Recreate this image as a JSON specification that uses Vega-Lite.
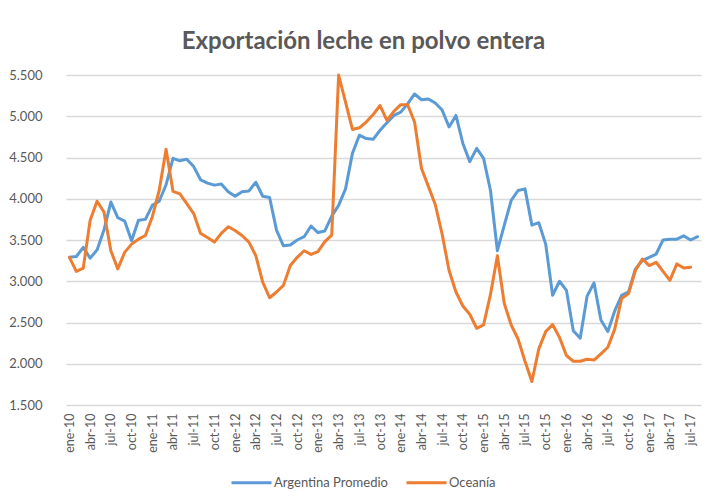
{
  "$schema": "https://vega.github.io/schema/vega-lite/v6.json",
  "width": 635,
  "height": 330,
  "autosize": {"type": "none"},
  "padding": {"left": 66, "top": 75, "right": 14, "bottom": 92},
  "background": "white",
  "title": {
    "text": "Exportación leche en polvo entera",
    "font": "Lato",
    "fontSize": 24,
    "fontWeight": "bold",
    "color": "#595959",
    "anchor": "middle",
    "dx": -20,
    "baseline": "alphabetic",
    "offset": -4
  },
  "config": {
    "view": {"stroke": null},
    "font": "Lato"
  },
  "data": {
    "values": [
      {"mes": "ene-10", "Argentina Promedio": 3290, "Oceanía": 3290},
      {"mes": "feb-10", "Argentina Promedio": 3300, "Oceanía": 3120},
      {"mes": "mar-10", "Argentina Promedio": 3410, "Oceanía": 3160},
      {"mes": "abr-10", "Argentina Promedio": 3280, "Oceanía": 3740},
      {"mes": "may-10", "Argentina Promedio": 3380, "Oceanía": 3970},
      {"mes": "jun-10", "Argentina Promedio": 3620, "Oceanía": 3840},
      {"mes": "jul-10", "Argentina Promedio": 3960, "Oceanía": 3370},
      {"mes": "ago-10", "Argentina Promedio": 3770, "Oceanía": 3150},
      {"mes": "sep-10", "Argentina Promedio": 3730, "Oceanía": 3350},
      {"mes": "oct-10", "Argentina Promedio": 3490, "Oceanía": 3450},
      {"mes": "nov-10", "Argentina Promedio": 3740, "Oceanía": 3510},
      {"mes": "dic-10", "Argentina Promedio": 3750, "Oceanía": 3555},
      {"mes": "ene-11", "Argentina Promedio": 3920, "Oceanía": 3780},
      {"mes": "feb-11", "Argentina Promedio": 3970, "Oceanía": 4100},
      {"mes": "mar-11", "Argentina Promedio": 4170, "Oceanía": 4600},
      {"mes": "abr-11", "Argentina Promedio": 4490, "Oceanía": 4090},
      {"mes": "may-11", "Argentina Promedio": 4460, "Oceanía": 4060},
      {"mes": "jun-11", "Argentina Promedio": 4480, "Oceanía": 3940},
      {"mes": "jul-11", "Argentina Promedio": 4390, "Oceanía": 3820},
      {"mes": "ago-11", "Argentina Promedio": 4230, "Oceanía": 3580},
      {"mes": "sep-11", "Argentina Promedio": 4190, "Oceanía": 3530},
      {"mes": "oct-11", "Argentina Promedio": 4165, "Oceanía": 3475},
      {"mes": "nov-11", "Argentina Promedio": 4180, "Oceanía": 3580},
      {"mes": "dic-11", "Argentina Promedio": 4085, "Oceanía": 3660},
      {"mes": "ene-12", "Argentina Promedio": 4030, "Oceanía": 3615},
      {"mes": "feb-12", "Argentina Promedio": 4085, "Oceanía": 3555},
      {"mes": "mar-12", "Argentina Promedio": 4095, "Oceanía": 3475},
      {"mes": "abr-12", "Argentina Promedio": 4200, "Oceanía": 3310},
      {"mes": "may-12", "Argentina Promedio": 4030, "Oceanía": 2990},
      {"mes": "jun-12", "Argentina Promedio": 4015, "Oceanía": 2800},
      {"mes": "jul-12", "Argentina Promedio": 3620, "Oceanía": 2870},
      {"mes": "ago-12", "Argentina Promedio": 3430, "Oceanía": 2950},
      {"mes": "sep-12", "Argentina Promedio": 3440, "Oceanía": 3190},
      {"mes": "oct-12", "Argentina Promedio": 3500, "Oceanía": 3290},
      {"mes": "nov-12", "Argentina Promedio": 3540, "Oceanía": 3370},
      {"mes": "dic-12", "Argentina Promedio": 3670, "Oceanía": 3325},
      {"mes": "ene-13", "Argentina Promedio": 3590, "Oceanía": 3360},
      {"mes": "feb-13", "Argentina Promedio": 3610, "Oceanía": 3480},
      {"mes": "mar-13", "Argentina Promedio": 3790, "Oceanía": 3560},
      {"mes": "abr-13", "Argentina Promedio": 3920, "Oceanía": 5500},
      {"mes": "may-13", "Argentina Promedio": 4120, "Oceanía": 5170},
      {"mes": "jun-13", "Argentina Promedio": 4550, "Oceanía": 4840},
      {"mes": "jul-13", "Argentina Promedio": 4770, "Oceanía": 4860},
      {"mes": "ago-13", "Argentina Promedio": 4730, "Oceanía": 4930},
      {"mes": "sep-13", "Argentina Promedio": 4720, "Oceanía": 5020},
      {"mes": "oct-13", "Argentina Promedio": 4830, "Oceanía": 5130},
      {"mes": "nov-13", "Argentina Promedio": 4920, "Oceanía": 4950},
      {"mes": "dic-13", "Argentina Promedio": 5010, "Oceanía": 5060},
      {"mes": "ene-14", "Argentina Promedio": 5050, "Oceanía": 5140},
      {"mes": "feb-14", "Argentina Promedio": 5150, "Oceanía": 5140},
      {"mes": "mar-14", "Argentina Promedio": 5270, "Oceanía": 4930},
      {"mes": "abr-14", "Argentina Promedio": 5200, "Oceanía": 4370},
      {"mes": "may-14", "Argentina Promedio": 5210, "Oceanía": 4150},
      {"mes": "jun-14", "Argentina Promedio": 5160, "Oceanía": 3930},
      {"mes": "jul-14", "Argentina Promedio": 5075, "Oceanía": 3570},
      {"mes": "ago-14", "Argentina Promedio": 4870, "Oceanía": 3130},
      {"mes": "sep-14", "Argentina Promedio": 5010, "Oceanía": 2870},
      {"mes": "oct-14", "Argentina Promedio": 4670, "Oceanía": 2700},
      {"mes": "nov-14", "Argentina Promedio": 4450, "Oceanía": 2600},
      {"mes": "dic-14", "Argentina Promedio": 4610, "Oceanía": 2430},
      {"mes": "ene-15", "Argentina Promedio": 4490, "Oceanía": 2470},
      {"mes": "feb-15", "Argentina Promedio": 4100, "Oceanía": 2840},
      {"mes": "mar-15", "Argentina Promedio": 3370, "Oceanía": 3310},
      {"mes": "abr-15", "Argentina Promedio": 3680, "Oceanía": 2730},
      {"mes": "may-15", "Argentina Promedio": 3980, "Oceanía": 2470},
      {"mes": "jun-15", "Argentina Promedio": 4100, "Oceanía": 2300},
      {"mes": "jul-15", "Argentina Promedio": 4120, "Oceanía": 2030},
      {"mes": "ago-15", "Argentina Promedio": 3680, "Oceanía": 1785},
      {"mes": "sep-15", "Argentina Promedio": 3710, "Oceanía": 2180},
      {"mes": "oct-15", "Argentina Promedio": 3450, "Oceanía": 2390},
      {"mes": "nov-15", "Argentina Promedio": 2830, "Oceanía": 2475},
      {"mes": "dic-15", "Argentina Promedio": 3000, "Oceanía": 2320},
      {"mes": "ene-16", "Argentina Promedio": 2890, "Oceanía": 2100},
      {"mes": "feb-16", "Argentina Promedio": 2400, "Oceanía": 2030},
      {"mes": "mar-16", "Argentina Promedio": 2310, "Oceanía": 2030},
      {"mes": "abr-16", "Argentina Promedio": 2820, "Oceanía": 2055},
      {"mes": "may-16", "Argentina Promedio": 2980, "Oceanía": 2045},
      {"mes": "jun-16", "Argentina Promedio": 2530, "Oceanía": 2120},
      {"mes": "jul-16", "Argentina Promedio": 2390, "Oceanía": 2200},
      {"mes": "ago-16", "Argentina Promedio": 2640, "Oceanía": 2420},
      {"mes": "sep-16", "Argentina Promedio": 2830, "Oceanía": 2790},
      {"mes": "oct-16", "Argentina Promedio": 2870, "Oceanía": 2850},
      {"mes": "nov-16", "Argentina Promedio": 3150, "Oceanía": 3130},
      {"mes": "dic-16", "Argentina Promedio": 3250, "Oceanía": 3270},
      {"mes": "ene-17", "Argentina Promedio": 3290, "Oceanía": 3190},
      {"mes": "feb-17", "Argentina Promedio": 3330, "Oceanía": 3230},
      {"mes": "mar-17", "Argentina Promedio": 3500, "Oceanía": 3120},
      {"mes": "abr-17", "Argentina Promedio": 3510, "Oceanía": 3010},
      {"mes": "may-17", "Argentina Promedio": 3510, "Oceanía": 3210},
      {"mes": "jun-17", "Argentina Promedio": 3550, "Oceanía": 3160},
      {"mes": "jul-17", "Argentina Promedio": 3500, "Oceanía": 3170},
      {"mes": "ago-17", "Argentina Promedio": 3540, "Oceanía": null}
    ]
  },
  "transform": [
    {"fold": ["Argentina Promedio", "Oceanía"], "as": ["serie", "valor"]},
    {"filter": "isValid(datum.valor)"}
  ],
  "mark": {"type": "line", "strokeWidth": 3, "strokeJoin": "round", "strokeCap": "round"},
  "encoding": {
    "x": {
      "field": "mes",
      "type": "ordinal",
      "sort": null,
      "scale": {"type": "point", "padding": 0.5},
      "axis": {
        "title": null,
        "values": ["ene-10","abr-10","jul-10","oct-10","ene-11","abr-11","jul-11","oct-11","ene-12","abr-12","jul-12","oct-12","ene-13","abr-13","jul-13","oct-13","ene-14","abr-14","jul-14","oct-14","ene-15","abr-15","jul-15","oct-15","ene-16","abr-16","jul-16","oct-16","ene-17","abr-17","jul-17"],
        "labelAngle": 270,
        "labelFont": "Lato",
        "labelFontSize": 12.5,
        "labelColor": "#595959",
        "labelPadding": 8,
        "ticks": false,
        "domain": false,
        "grid": false,
        "labelOverlap": false
      }
    },
    "y": {
      "field": "valor",
      "type": "quantitative",
      "scale": {"domain": [1500, 5500], "nice": false, "zero": false},
      "axis": {
        "title": null,
        "values": [1500, 2000, 2500, 3000, 3500, 4000, 4500, 5000, 5500],
        "labelExpr": "replace(format(datum.value, ',.0f'), ',', '.')",
        "labelFont": "Lato",
        "labelFontSize": 13,
        "labelColor": "#595959",
        "labelPadding": 24,
        "ticks": false,
        "domain": false,
        "grid": true,
        "gridColor": "#D9D9D9",
        "gridWidth": 1.3
      }
    },
    "color": {
      "field": "serie",
      "type": "nominal",
      "scale": {"domain": ["Argentina Promedio", "Oceanía"], "range": ["#5B9BD5", "#ED7D31"]},
      "legend": {
        "title": null,
        "orient": "none",
        "direction": "horizontal",
        "legendX": 164,
        "legendY": 386,
        "symbolType": "stroke",
        "symbolSize": 1600,
        "symbolStrokeWidth": 3,
        "labelFont": "Lato",
        "labelFontSize": 13,
        "labelColor": "#595959",
        "labelOffset": 1,
        "columnPadding": 12
      }
    }
  }
}
